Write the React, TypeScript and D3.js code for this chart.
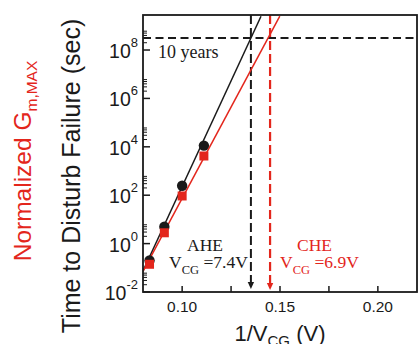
import React from "react";
import * as d3 from "d3";

// Gate voltages stressed (V) and measured time to disturb failure (s)
const vcg = [12, 11, 10, 9];
const aheTime = [0.2, 5.0, 245, 11200];
const cheTime = [0.14, 2.8, 93, 4170];

// Extrapolation fits (1/VCG endpoints and times)
const aheFitX = [0.08, 0.1403];
const aheFitY = [0.074, 2.5e9];
const cheFitX = [0.08, 0.1499];
const cheFitY = [0.071, 2.5e9];

// Ten-year retention target and extracted gate voltages
const tenYears = 3.15e8;
const aheVcg = 7.4;
const cheVcg = 6.9;

const xMajor = [0.1, 0.15, 0.2];
const xMinor = [0.125, 0.175];
const yMajorExp = [-2, 0, 2, 4, 6, 8];

const W = 420;
const H = 344;
const L = 143;
const T = 15;
const R = 417;
const B = 292;

const RED = "#e3261c";
const INK = "#1a1a1a";
const SANS = "'Liberation Sans', Arial, Helvetica, sans-serif";
const SERIF = "'Liberation Serif', 'Times New Roman', serif";

export default function App() {
  const x = d3.scaleLinear().domain([0.08, 0.22]).range([L, R]);
  const y = d3.scaleLog().domain([1e-2, 2.8e9]).range([B, T]);

  const line = d3
    .line<[number, number]>()
    .x((d) => x(d[0]))
    .y((d) => y(d[1]));

  const aheFit = aheFitX.map((v, i) => [v, aheFitY[i]] as [number, number]);
  const cheFit = cheFitX.map((v, i) => [v, cheFitY[i]] as [number, number]);

  const minorY: number[] = [];
  yMajorExp.forEach((e) => {
    for (let k = 2; k <= 6; k++) {
      const v = k * Math.pow(10, e);
      if (y(v) > T + 1) minorY.push(v);
    }
  });

  const xa = x(1 / aheVcg);
  const xc = x(1 / cheVcg);
  const yTen = y(tenYears);

  const arrow = (cx: number, tip: number) =>
    `M${cx - 3.2},${tip - 7} L${cx + 3.2},${tip - 7} L${cx},${tip} Z`;

  return (
    <svg
      width={W}
      height={H}
      style={{ position: "absolute", left: 0, top: 0, background: "#fff" }}
    >
      <defs>
        <clipPath id="plotArea">
          <rect x={L} y={T} width={R - L} height={B - T} />
        </clipPath>
      </defs>

      {/* axis titles */}
      <text
        transform={`translate(31,${161}) rotate(-90)`}
        textAnchor="middle"
        fontFamily={SANS}
        fontSize={24.5}
        fill={RED}
      >
        Normalized G
        <tspan fontSize={15.5} dy={6}>
          m,MAX
        </tspan>
      </text>
      <text
        transform={`translate(80,${176}) rotate(-90)`}
        textAnchor="middle"
        fontFamily={SANS}
        fontSize={25}
        fill={INK}
      >
        Time to Disturb Failure (sec)
      </text>
      <text
        x={(L + R) / 2}
        y={341}
        textAnchor="middle"
        fontFamily={SANS}
        fontSize={22}
        fill={INK}
      >
        1/V
        <tspan fontSize={15} dy={5}>
          CG
        </tspan>
        <tspan dy={-5}> (V)</tspan>
      </text>

      {/* y ticks */}
      {yMajorExp.map((e) => {
        const yy = y(Math.pow(10, e));
        return (
          <g key={e}>
            <line x1={L} x2={L + 7} y1={yy} y2={yy} stroke={INK} strokeWidth={1.5} />
            <text
              x={138}
              y={yy + 8}
              textAnchor="end"
              fontFamily={SANS}
              fontSize={19.5}
              fill={INK}
            >
              10
              <tspan fontSize={13} dy={-11}>
                {e < 0 ? `-${-e}` : `${e}`}
              </tspan>
            </text>
          </g>
        );
      })}
      {minorY.map((v, i) => (
        <line key={i} x1={L} x2={L + 4} y1={y(v)} y2={y(v)} stroke={INK} strokeWidth={1} />
      ))}

      {/* x ticks */}
      {xMajor.map((v) => (
        <g key={v}>
          <line x1={x(v)} x2={x(v)} y1={B} y2={B - 6} stroke={INK} strokeWidth={1.5} />
          <text
            x={x(v)}
            y={312}
            textAnchor="middle"
            fontFamily={SANS}
            fontSize={15.5}
            fill={INK}
          >
            {d3.format(".2f")(v)}
          </text>
        </g>
      ))}
      {xMinor.map((v) => (
        <line key={v} x1={x(v)} x2={x(v)} y1={B} y2={B - 6} stroke={INK} strokeWidth={1.5} />
      ))}

      <g clipPath="url(#plotArea)">
        {/* ten-year line */}
        <line
          x1={L}
          x2={R}
          y1={yTen}
          y2={yTen}
          stroke={INK}
          strokeWidth={2}
          strokeDasharray="8 4.5"
        />
        {/* extracted voltages */}
        <line
          x1={xa}
          x2={xa}
          y1={T}
          y2={283}
          stroke={INK}
          strokeWidth={2}
          strokeDasharray="9 4"
        />
        <line
          x1={xc}
          x2={xc}
          y1={T}
          y2={283}
          stroke={RED}
          strokeWidth={2.2}
          strokeDasharray="9 4"
        />
        <path d={arrow(xa, 289)} fill={INK} />
        <path d={arrow(xc, 290)} fill={RED} />

        {/* fits */}
        <path d={line(aheFit) ?? ""} fill="none" stroke={INK} strokeWidth={1.5} />
        <path d={line(cheFit) ?? ""} fill="none" stroke={RED} strokeWidth={1.5} />

        {/* measured points */}
        {vcg.map((v, i) => (
          <circle key={`a${i}`} cx={x(1 / v)} cy={y(aheTime[i])} r={5.2} fill={INK} />
        ))}
        {vcg.map((v, i) => (
          <rect
            key={`c${i}`}
            x={x(1 / v) - 4.5}
            y={y(cheTime[i]) - 4.5}
            width={9}
            height={9}
            fill={RED}
          />
        ))}
      </g>

      {/* annotations */}
      <text x={158} y={58} fontFamily={SERIF} fontSize={18} fill={INK}>
        10 years
      </text>
      <text x={187} y={251} fontFamily={SERIF} fontSize={17.5} fill={INK}>
        AHE
      </text>
      <text x={169} y={268} fontFamily={SERIF} fontSize={17.5} fill={INK}>
        V
        <tspan fontSize={12.5} dy={6}>
          CG
        </tspan>
        <tspan dy={-6}> =7.4V</tspan>
      </text>
      <text x={297} y={251} fontFamily={SERIF} fontSize={17.5} fill={RED}>
        CHE
      </text>
      <text x={280} y={268} fontFamily={SERIF} fontSize={17.5} fill={RED}>
        V
        <tspan fontSize={12.5} dy={6}>
          CG
        </tspan>
        <tspan dy={-6}> =6.9V</tspan>
      </text>

      {/* frame */}
      <rect x={L} y={T} width={R - L} height={B - T} fill="none" stroke={INK} strokeWidth={1.8} />
    </svg>
  );
}
